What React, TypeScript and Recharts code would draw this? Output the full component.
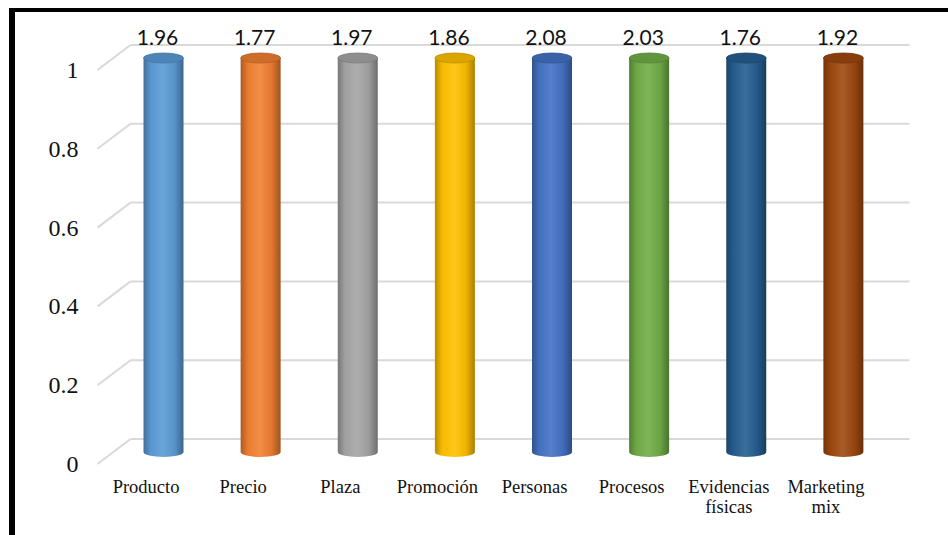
import React from "react";
import {
  BarChart,
  Bar,
  XAxis,
  YAxis,
  CartesianGrid,
  LabelList,
  Cell,
} from "recharts";

const categories = [
  "Producto",
  "Precio",
  "Plaza",
  "Promoción",
  "Personas",
  "Procesos",
  "Evidencias físicas",
  "Marketing mix",
];
const values = [1.96, 1.77, 1.97, 1.86, 2.08, 2.03, 1.76, 1.92];
const barColors = [
  "#5B9BD5",
  "#F07F30",
  "#A5A5A5",
  "#FFC000",
  "#4472C4",
  "#70AD47",
  "#255E91",
  "#9E480E",
];
const yTicks = [0, 0.2, 0.4, 0.6, 0.8, 1];

const data = categories.map((name, i) => ({ name, value: values[i] }));

// plot area (front plane of the cylinders)
const W = 948;
const H = 535;
const PLOT_LEFT = 114.5;
const PLOT_RIGHT = 891.5;
const PLOT_TOP = 58;
const PLOT_BOTTOM = 452;
const Y_AXIS_W = 60;
const X_AXIS_H = 60;

// fake depth of the 3d floor / back wall
const FRONT_DX = -17;
const FRONT_DY = 12;
const BACK_DX = 16;
const BACK_DY = -13;

function shade(hex: string, f: number) {
  const n = parseInt(hex.slice(1), 16);
  const ch = [(n >> 16) & 255, (n >> 8) & 255, n & 255].map((c) => {
    const v = f < 1 ? c * f : c + (255 - c) * (f - 1);
    return Math.max(0, Math.min(255, Math.round(v)));
  });
  return `rgb(${ch[0]},${ch[1]},${ch[2]})`;
}

const Cylinder = (props: any) => {
  const { x, y, width, height, fill, index } = props;
  const top = Math.max(y, PLOT_TOP);
  const bottom = y + height;
  const rx = width / 2;
  const ry = 5;
  const id = `cyl-${index}`;
  const body = `M${x},${top} L${x},${bottom} A${rx},${ry} 0 0 0 ${x + width},${bottom} L${x + width},${top} Z`;
  return (
    <g>
      <defs>
        <linearGradient id={id} x1="0" y1="0" x2="1" y2="0">
          <stop offset="0%" stopColor={shade(fill, 0.72)} />
          <stop offset="18%" stopColor={shade(fill, 0.97)} />
          <stop offset="48%" stopColor={shade(fill, 1.1)} />
          <stop offset="78%" stopColor={shade(fill, 0.94)} />
          <stop offset="100%" stopColor={shade(fill, 0.66)} />
        </linearGradient>
      </defs>
      <path d={body} fill={`url(#${id})`} />
      <ellipse
        cx={x + rx}
        cy={top}
        rx={rx}
        ry={ry}
        fill={shade(fill, 0.86)}
        stroke={shade(fill, 0.74)}
        strokeWidth={0.8}
      />
    </g>
  );
};

const ValueLabel = (props: any) => {
  const { x, width, value } = props;
  return (
    <text
      x={x + width / 2 - 6}
      y={PLOT_TOP - 13}
      textAnchor="middle"
      fontFamily="Lato"
      fontSize={21}
      fill="#111"
    >
      {Number(value).toFixed(2)}
    </text>
  );
};

const YTick = (props: any) => {
  const { y, payload } = props;
  return (
    <text
      x={PLOT_LEFT - 36}
      y={y + FRONT_DY + 8}
      textAnchor="end"
      fontFamily="Liberation Serif"
      fontSize={24}
      fill="#111"
    >
      {String(payload.value)}
    </text>
  );
};

const XTick = (props: any) => {
  const { x, payload } = props;
  const lines = String(payload.value).split(" ");
  return (
    <text
      x={x + FRONT_DX}
      y={PLOT_BOTTOM + 41}
      textAnchor="middle"
      fontFamily="Liberation Serif"
      fontSize={18.5}
      fill="#111"
    >
      {lines.map((l, i) => (
        <tspan key={i} x={x + FRONT_DX} dy={i === 0 ? 0 : 20}>
          {l}
        </tspan>
      ))}
    </text>
  );
};

// floor diagonal + back-wall gridline for each tick
const GridLine = (props: any) => {
  const { x1, x2, y1, index } = props;
  const bx = x1 + BACK_DX;
  const by = y1 + BACK_DY;
  return (
    <g key={`gl-${index}`}>
      <line
        x1={x1 + FRONT_DX}
        y1={y1 + FRONT_DY}
        x2={bx}
        y2={by}
        stroke="#D9D9D9"
        strokeWidth={2}
      />
      <line x1={bx} y1={by} x2={x2 + 18} y2={by} stroke="#D9D9D9" strokeWidth={2} />
    </g>
  );
};

export default function App() {
  return (
    <div style={{ position: "absolute", left: 0, top: 0, width: W, height: H, background: "#fff" }}>
      <style>{`.recharts-bar-rectangles { clip-path: none !important; }`}</style>
      <div style={{ position: "absolute", left: 9, top: 8, width: W - 9, height: 4, background: "#000" }} />
      <div style={{ position: "absolute", left: 9, top: 8, width: 6, height: H - 8, background: "#000" }} />
      <div style={{ position: "absolute", left: 0, top: 0 }}>
        <BarChart
          width={W}
          height={H}
          data={data}
          margin={{
            top: PLOT_TOP,
            bottom: H - PLOT_BOTTOM - X_AXIS_H,
            left: PLOT_LEFT - Y_AXIS_W,
            right: W - PLOT_RIGHT,
          }}
        >
          <CartesianGrid vertical={false} horizontal={GridLine} />
          <XAxis
            dataKey="name"
            height={X_AXIS_H}
            axisLine={false}
            tickLine={false}
            interval={0}
            tick={XTick}
          />
          <YAxis
            width={Y_AXIS_W}
            domain={[0, 1]}
            ticks={yTicks}
            allowDataOverflow
            axisLine={false}
            tickLine={false}
            tick={YTick}
          />
          <Bar dataKey="value" barSize={40} shape={Cylinder} isAnimationActive={false}>
            {data.map((d, i) => (
              <Cell key={d.name} fill={barColors[i]} />
            ))}
            <LabelList dataKey="value" content={ValueLabel} />
          </Bar>
        </BarChart>
      </div>
    </div>
  );
}
